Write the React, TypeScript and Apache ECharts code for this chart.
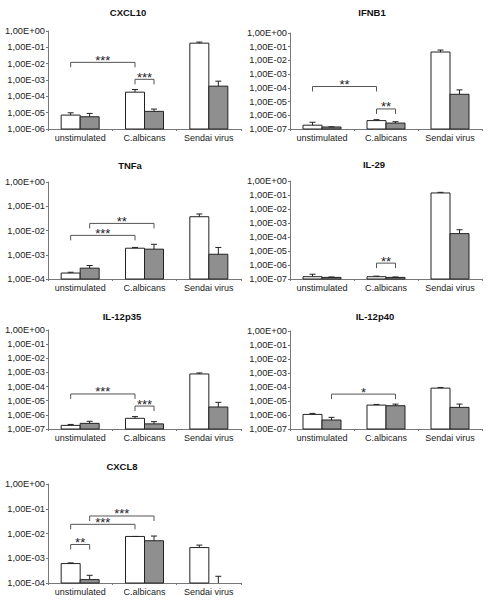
import React, { useEffect, useRef } from "react";
import * as echarts from "echarts";

const categories = ["unstimulated", "C.albicans", "Sendai virus"];
const panelTitles = ["CXCL10", "IFNB1", "TNFa", "IL-29", "IL-12p35", "IL-12p40", "CXCL8"];
const panelMinExp = [-6, -7, -4, -7, -7, -7, -4];

// white bars (mean, top of error bar)
const whiteMean = [
  [7.1e-6, 1.8e-4, 0.18],
  [1.9e-7, 4.1e-7, 4.1e-2],
  [1.76e-4, 1.86e-3, 3.7e-2],
  [1.46e-7, 1.46e-7, 0.14],
  [1.8e-7, 5.7e-7, 7.8e-4],
  [1.1e-6, 5.1e-6, 8.3e-5],
  [6.1e-4, 7.6e-3, 2.7e-3],
];
const whiteErrTop = [
  [9.8e-6, 2.6e-4, 0.21],
  [3.1e-7, 4.8e-7, 5.7e-2],
  [1.9e-4, 2.0e-3, 4.8e-2],
  [2.2e-7, 1.6e-7, 0.155],
  [2.1e-7, 7.5e-7, 9.2e-4],
  [1.3e-6, 5.7e-6, 9.3e-5],
  [6.5e-4, 7.6e-3, 3.4e-3],
];
// grey bars
const greyMean = [
  [5.6e-6, 1.2e-5, 4.2e-4],
  [1.4e-7, 2.7e-7, 3.4e-5],
  [2.8e-4, 1.7e-3, 1.05e-3],
  [1.3e-7, 1.3e-7, 1.74e-4],
  [2.5e-7, 2.3e-7, 3.6e-6],
  [4.4e-7, 4.6e-6, 3.5e-6],
  [1.37e-4, 5.1e-3, 5e-5],
];
const greyErrTop = [
  [9e-6, 1.66e-5, 8.5e-4],
  [1.45e-7, 3.4e-7, 7.1e-5],
  [3.6e-4, 2.7e-3, 2.0e-3],
  [1.4e-7, 1.4e-7, 3.3e-4],
  [3.5e-7, 3.3e-7, 7.7e-6],
  [6.8e-7, 6e-6, 6e-6],
  [2.05e-4, 7.9e-3, 1.87e-4],
];

// significance brackets: [panel, fromCat, fromSide, toCat, toSide, level, label]
const brackets: [number, number, number, number, number, number, string][] = [
  [0, 0, 0, 1, 0, 1.2e-2, "***"],
  [0, 1, 0, 1, 1, 1.1e-3, "***"],
  [1, 0, 0, 1, 0, 1.25e-4, "**"],
  [1, 1, 0, 1, 1, 2.9e-6, "**"],
  [2, 0, 0, 1, 0, 6.3e-3, "***"],
  [2, 0, 1, 1, 1, 1.96e-2, "**"],
  [3, 1, 0, 1, 1, 1.36e-6, "**"],
  [4, 0, 0, 1, 0, 3.0e-5, "***"],
  [4, 1, 0, 1, 1, 4.2e-6, "***"],
  [5, 0, 1, 1, 1, 3.1e-5, "*"],
  [6, 0, 0, 1, 0, 2.35e-2, "***"],
  [6, 0, 1, 1, 1, 5.1e-2, "***"],
  [6, 0, 0, 0, 1, 3.6e-3, "**"],
];

// layout (pixels)
const layout = [
  { left: 48, top: 31, width: 193, height: 98, tx: 128, ty: 13 },
  { left: 290, top: 33, width: 192, height: 96, tx: 372, ty: 13 },
  { left: 48, top: 182, width: 193, height: 97, tx: 130, ty: 166 },
  { left: 290, top: 181, width: 192, height: 98, tx: 374, ty: 165 },
  { left: 48, top: 330, width: 193, height: 99, tx: 122, ty: 317 },
  { left: 290, top: 331, width: 192, height: 98, tx: 375, ty: 317 },
  { left: 48, top: 484, width: 193, height: 99, tx: 122, ty: 467 },
];

const FONT = "'Liberation Sans', Arial, Helvetica, sans-serif";
const BW = 19;
const AXIS_COLOR = "#777";
const TEXT_COLOR = "#222";

function fmtExp(v: number) {
  const e = Math.round(Math.log10(v));
  const a = Math.abs(e);
  return "1,00E" + (e >= 0 ? "+" : "-") + (a < 10 ? "0" : "") + a;
}

export default function App() {
  const ref = useRef<HTMLDivElement>(null);
  useEffect(() => {
    if (!ref.current) return;
    const chart = echarts.init(ref.current, undefined, { renderer: "svg" });

    const grids: any[] = [];
    const xAxes: any[] = [];
    const yAxes: any[] = [];
    const titles: any[] = [];
    const series: any[] = [];

    panelTitles.forEach((t, p) => {
      const L = layout[p];
      const minV = Math.pow(10, panelMinExp[p]);
      grids.push({ left: L.left, top: L.top, width: L.width, height: L.height });
      titles.push({
        text: t,
        left: L.tx,
        top: L.ty - 6,
        textAlign: "center",
        padding: 0,
        textStyle: { fontFamily: FONT, fontSize: 9.5, fontWeight: "bold", color: "#111" },
      });
      xAxes.push({
        type: "category",
        gridIndex: p,
        data: categories,
        boundaryGap: true,
        axisLine: { lineStyle: { color: AXIS_COLOR, width: 1 } },
        axisTick: { show: true, length: 2, interval: 0, lineStyle: { color: AXIS_COLOR } },
        axisLabel: { fontFamily: FONT, fontSize: 9, color: TEXT_COLOR, margin: 4, interval: 0 },
        splitLine: { show: false },
      });
      yAxes.push({
        type: "log",
        logBase: 10,
        gridIndex: p,
        min: minV,
        max: 1,
        splitNumber: -panelMinExp[p],
        axisLine: { show: true, lineStyle: { color: AXIS_COLOR, width: 1 } },
        axisTick: { show: true, length: 2, lineStyle: { color: AXIS_COLOR } },
        axisLabel: {
          fontFamily: FONT,
          fontSize: 9.3,
          color: TEXT_COLOR,
          margin: 3,
          formatter: (v: number) => fmtExp(v),
        },
        splitLine: { show: false },
      });

      const barData: number[][] = [];
      for (let c = 0; c < categories.length; c++) {
        barData.push([c, whiteMean[p][c], whiteErrTop[p][c], 0]);
        barData.push([c, greyMean[p][c], greyErrTop[p][c], 1]);
      }
      series.push({
        type: "custom",
        xAxisIndex: p,
        yAxisIndex: p,
        encode: { x: 0, y: [1, 2] },
        data: barData,
        clip: false,
        renderItem: (params: any, api: any) => {
          const c = api.value(0);
          const v = api.value(1);
          const e = api.value(2);
          const side = api.value(3);
          const base = api.coord([c, minV]);
          const top = api.coord([c, Math.max(v, minV)]);
          const et = api.coord([c, e]);
          const cx = base[0] + (side === 0 ? -BW / 2 : BW / 2);
          const children: any[] = [];
          if (v > minV) {
            children.push({
              type: "rect",
              shape: { x: cx - BW / 2, y: top[1], width: BW, height: base[1] - top[1] },
              style: { fill: side === 0 ? "#ffffff" : "#8f8f8f", stroke: "#222", lineWidth: 1 },
            });
          }
          children.push({
            type: "line",
            shape: { x1: cx, y1: top[1], x2: cx, y2: et[1] },
            style: { stroke: "#222", lineWidth: 1 },
          });
          children.push({
            type: "line",
            shape: { x1: cx - 3, y1: et[1], x2: cx + 3, y2: et[1] },
            style: { stroke: "#222", lineWidth: 1 },
          });
          return { type: "group", children };
        },
        z: 2,
      });

      const pb = brackets.filter((b) => b[0] === p);
      series.push({
        type: "custom",
        xAxisIndex: p,
        yAxisIndex: p,
        encode: { x: 0, y: 2 },
        data: pb.map((b) => [b[1], b[3], b[5]]),
        clip: false,
        renderItem: (params: any, api: any) => {
          const b = pb[params.dataIndex];
          const p1 = api.coord([b[1], b[5]]);
          const p2 = api.coord([b[3], b[5]]);
          const x1 = p1[0] + (b[2] === 0 ? -BW / 2 : BW / 2);
          const x2 = p2[0] + (b[4] === 0 ? -BW / 2 : BW / 2);
          const y = p1[1];
          return {
            type: "group",
            children: [
              {
                type: "polyline",
                shape: { points: [[x1, y + 5], [x1, y], [x2, y], [x2, y + 5]] },
                style: { stroke: "#555", lineWidth: 1, fill: "none" },
              },
              {
                type: "text",
                x: (x1 + x2) / 2,
                y: y - 2,
                style: {
                  text: b[6],
                  fontFamily: FONT,
                  fontSize: 13,
                  fill: "#222",
                  align: "center",
                  verticalAlign: "middle",
                },
              },
            ],
          };
        },
        z: 3,
      });
    });

    chart.setOption({
      animation: false,
      backgroundColor: "#ffffff",
      title: titles,
      grid: grids,
      xAxis: xAxes,
      yAxis: yAxes,
      series,
    });
    return () => chart.dispose();
  }, []);
  return (
    <div
      ref={ref}
      style={{ position: "absolute", left: 0, top: 0, width: 489, height: 600 }}
    />
  );
}
